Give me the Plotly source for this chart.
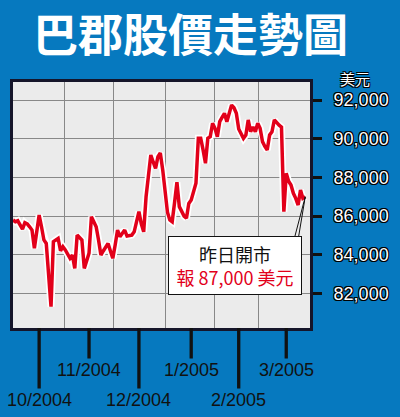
import plotly.graph_objects as go

# trading-session index (mid-Sep 2004 .. early Mar 2005) and closing price, USD
prices = [
    85800, 85710, 85760, 85550, 85330, 85660, 85600, 85450, 85280, 84340,
    85300, 86060, 85450, 84770, 84590, 83000, 81320, 84680, 84750, 84850,
    84210, 84420, 84250, 84000, 83820, 83990, 83300, 85020, 84900, 84770,
    83300, 83700, 84080, 85970, 85700, 85450, 84770, 83990, 84200, 84420,
    84590, 84200, 83820, 84510, 85280, 84940, 85100, 85280, 84970, 85000,
    85020, 85190, 85700, 86230, 85600, 85190, 87000, 88000, 89160, 88800,
    88470, 89070, 89260, 88400, 87300, 86200, 85800, 85710, 86700, 87750,
    86490, 86200, 86000, 85890, 86660, 86830, 87300, 87700, 90020, 90020,
    89420, 88730, 90020, 90100, 90800, 90540, 90100, 90880, 91100, 91310,
    90880, 91310, 91740, 91600, 91310, 90500, 90300, 90020, 90190, 90970,
    90360, 90600, 90360, 90800, 90540, 89850, 89600, 89420, 90190, 90360,
    90970, 90800, 90700, 90600, 86230, 88210, 87800, 87610, 87180, 86920,
    86570, 87350, 86920, 87000,
]
days = list(range(len(prices)))

month_days = [11, 32, 53, 75, 95, 115]
month_labels = ["10/2004", "11/2004", "12/2004", "1/2005", "2/2005", "3/2005"]
grid_days = [21.5, 42.5, 64, 85, 103.5]
price_ticks = [82000, 84000, 86000, 88000, 90000, 92000]

title = "巴郡股價走勢圖"
unit = "美元"
note = "昨日開市"
note_price = "報 87,000 美元"

BLUE = "#0679bf"
RED = "#e2001a"
OUTLINE = "1px 1px 0 #000, -1px -1px 0 #000, 1px -1px 0 #000, -1px 1px 0 #000, 0 1px 0 #000, 0 -1px 0 #000"

fig = go.Figure()
fig.add_trace(go.Scatter(x=days, y=prices, mode="lines", line=dict(color="white", width=7),
                         hoverinfo="skip", showlegend=False))
fig.add_trace(go.Scatter(x=days, y=prices, mode="lines", line=dict(color=RED, width=3.5),
                         showlegend=False))

# month ticks below the axis, alternating long / short
for i, (d, lab) in enumerate(zip(month_days, month_labels)):
    fig.add_annotation(
        x=d, y=0, xref="x", yref="paper", text=lab, showarrow=True,
        arrowhead=0, arrowwidth=3.3, arrowcolor="#111", ax=0, ay=72 if i % 2 == 0 else 42,
        font=dict(family="Liberation Sans, Arial", size=18, color="#111"),
    )

# callout box and its pointer
fig.add_annotation(x=days[-1], y=prices[-1], text="", showarrow=True, arrowhead=0,
                   arrowwidth=1, arrowcolor="#111", ax=-11, ay=42)
fig.add_annotation(x=days[-1], y=prices[-1], text="", showarrow=True, arrowhead=0,
                   arrowwidth=1, arrowcolor="#111", ax=-7, ay=42)
fig.add_annotation(
    x=0.747, y=0.255, xref="paper", yref="paper", xanchor="center", yanchor="middle",
    text=f"{note}<br><span style='color:{RED}'>{note_price}</span>", showarrow=False,
    font=dict(family="Noto Sans CJK TC", size=18, color="#111"),
    bgcolor="white", bordercolor="#111", borderwidth=1, borderpad=4, width=124,
)

fig.add_annotation(x=0.597, y=1.203, xref="paper", yref="paper", xanchor="center", yanchor="middle",
                   text=title, showarrow=False,
                   font=dict(family="Noto Sans CJK TC", size=45, color="white", weight="bold"))
fig.add_annotation(x=1.15, y=1.016, xref="paper", yref="paper", xanchor="center", yanchor="middle",
                   text=unit, showarrow=False,
                   font=dict(family="Noto Sans CJK TC", size=15, color="white", shadow=OUTLINE))

fig.update_layout(
    width=400, height=417,
    margin=dict(l=10, r=90, t=82, b=89),
    paper_bgcolor=BLUE, plot_bgcolor="#ebebeb",
    showlegend=False,
)
fig.update_xaxes(range=[0, 125], tickvals=grid_days, showticklabels=False, ticks="",
                 showgrid=True, gridcolor="#888", gridwidth=1.2, zeroline=False,
                 showline=True, mirror=True, linecolor="#15152a", linewidth=3)
fig.update_yaxes(range=[80220, 92930], side="right", tickvals=price_ticks, tickformat=",d",
                 ticks="outside", ticklen=9, tickwidth=3, tickcolor="#111", ticklabelstandoff=8,
                 tickfont=dict(family="Liberation Sans, Arial", size=18, color="white", shadow=OUTLINE),
                 showgrid=True, gridcolor="#888", gridwidth=1.2, zeroline=False,
                 showline=True, mirror=True, linecolor="#15152a", linewidth=3)

fig.write_html("out.html", config={"displayModeBar": False},
               post_script="document.body.style.margin='0';")
